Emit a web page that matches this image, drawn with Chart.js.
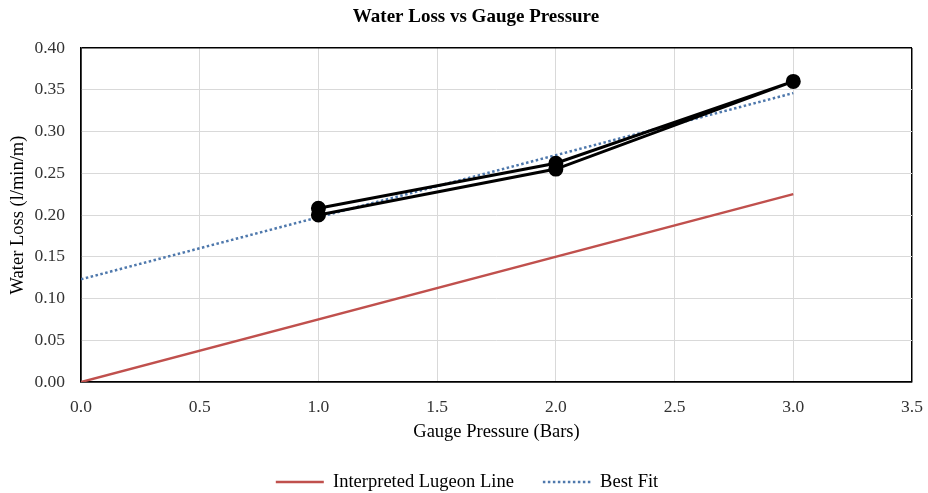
<!DOCTYPE html>
<html>
<head>
<meta charset="utf-8">
<script src="https://cdn.jsdelivr.net/npm/chart.js@4"></script>
<style>
  html, body { margin: 0; padding: 0; background: #ffffff; }
  #wrap { width: 928px; height: 493px; }
</style>
</head>
<body>
<div id="wrap"><canvas id="chart" width="928" height="493"></canvas></div>
<script>
// Packer test readings: pressure stages up and back down
const testPressure = [1.0, 2.0, 3.0, 2.0, 1.0];
const testWaterLoss = [0.208, 0.262, 0.360, 0.255, 0.200];

// Interpreted Lugeon line through the origin
const lugeonPressure = [0.0, 3.0];
const lugeonWaterLoss = [0.0, 0.225];

// Linear best fit of the test readings
const fitPressure = [0.0, 3.0];
const fitWaterLoss = [0.123, 0.346];

const xTickValues = [0.0, 0.5, 1.0, 1.5, 2.0, 2.5, 3.0, 3.5];
const yTickValues = [0.00, 0.05, 0.10, 0.15, 0.20, 0.25, 0.30, 0.35, 0.40];

const chartTitle = 'Water Loss vs Gauge Pressure';
const xTitle = 'Gauge Pressure (Bars)';
const yTitle = 'Water Loss (l/min/m)';

const serif = '"Liberation Serif", "Times New Roman", serif';

const toPoints = (xs, ys) => xs.map((x, i) => ({ x: x, y: ys[i] }));

// Frame edges (first and last tick) are drawn black, inner grid light grey
const edgeAware = (vals, edge, inner) => (ctx) => {
  const v = ctx.tick ? ctx.tick.value : null;
  if (v === null) return inner;
  const lo = vals[0], hi = vals[vals.length - 1];
  return (Math.abs(v - lo) < 1e-9 || Math.abs(v - hi) < 1e-9) ? edge : inner;
};

// Heading above the plot, plus a small nudge of the legend row
const layoutPlugin = {
  id: 'chartHeading',
  afterLayout(chart) {
    const lg = chart.legend;
    if (lg) {
      const h = lg.bottom - lg.top;
      lg.top = 443.75;
      lg.bottom = lg.top + h;
      lg.left += 3;
      lg.right += 3;
    }
  },
  afterDraw(chart) {
    const c = chart.ctx;
    c.save();
    c.font = 'bold 19px ' + serif;
    c.fillStyle = '#000000';
    c.textAlign = 'center';
    c.textBaseline = 'middle';
    c.fillText(chartTitle, 476, 17);
    c.restore();
  }
};

// Legend entries use the dataset line style (colour, width, dash)
const legendLabels = (chart) => {
  const items = Chart.defaults.plugins.legend.labels.generateLabels(chart);
  return items
    .map((it) => {
      const ds = chart.data.datasets[it.datasetIndex];
      it.strokeStyle = ds.borderColor;
      it.lineWidth = ds.borderWidth;
      it.lineDash = ds.borderDash || [];
      it.pointStyle = 'line';
      return it;
    })
    .sort((a, b) => a.datasetIndex - b.datasetIndex);
};

new Chart(document.getElementById('chart'), {
  type: 'scatter',
  data: {
    datasets: [
      {
        label: 'Test Readings',
        data: toPoints(testPressure, testWaterLoss),
        showLine: true,
        borderColor: '#000000',
        backgroundColor: '#000000',
        borderWidth: 3,
        pointRadius: 6,
        pointHoverRadius: 6,
        order: 0
      },
      {
        label: 'Interpreted Lugeon Line',
        data: toPoints(lugeonPressure, lugeonWaterLoss),
        showLine: true,
        borderColor: '#C0504D',
        backgroundColor: '#C0504D',
        borderWidth: 2.5,
        pointRadius: 0,
        order: 2
      },
      {
        label: 'Best Fit',
        data: toPoints(fitPressure, fitWaterLoss),
        showLine: true,
        borderColor: '#4E78AC',
        backgroundColor: '#4E78AC',
        borderWidth: 2.5,
        borderDash: [2.5, 2.5],
        pointRadius: 0,
        order: 1
      }
    ]
  },
  options: {
    responsive: false,
    animation: false,
    layout: { padding: { top: 48, right: 0, left: 0, bottom: 0 } },
    plugins: {
      title: { display: false },
      tooltip: { enabled: false },
      legend: {
        display: true,
        position: 'bottom',
        labels: {
          generateLabels: legendLabels,
          filter: (item) => item.text !== 'Test Readings',
          usePointStyle: true,
          pointStyle: 'line',
          pointStyleWidth: 48,
          padding: 29,
          color: '#000000',
          font: { family: serif, size: 18.5 }
        }
      }
    },
    scales: {
      x: {
        type: 'linear',
        min: 0,
        max: 3.5,
        afterBuildTicks: (s) => { s.ticks = xTickValues.map(v => ({ value: v })); },
        afterFit: (s) => { s.height = 53.5; s.paddingLeft = 0; s.paddingRight = 16; },
        ticks: {
          padding: 15,
          color: '#333333',
          font: { family: serif, size: 17.5 },
          callback: (v) => Number(v).toFixed(1)
        },
        grid: {
          drawTicks: false,
          color: edgeAware(xTickValues, '#000000', '#d9d9d9'),
          lineWidth: edgeAware(xTickValues, 1.5, 1)
        },
        border: { display: true, color: '#000000', width: 1.5 },
        title: {
          display: true,
          text: xTitle,
          color: '#000000',
          font: { family: serif, size: 18.5 },
          padding: { top: 0, bottom: -7.6 }
        }
      },
      y: {
        type: 'linear',
        min: 0,
        max: 0.4,
        afterBuildTicks: (s) => { s.ticks = yTickValues.map(v => ({ value: v })); },
        afterFit: (s) => { s.width = 81; s.paddingTop = 0; s.paddingBottom = 0; },
        ticks: {
          padding: 16,
          color: '#333333',
          font: { family: serif, size: 17.5 },
          callback: (v) => Number(v).toFixed(2)
        },
        grid: {
          drawTicks: false,
          color: edgeAware(yTickValues, '#000000', '#d9d9d9'),
          lineWidth: edgeAware(yTickValues, 1.5, 1)
        },
        border: { display: true, color: '#000000', width: 1.5 },
        title: {
          display: true,
          text: yTitle,
          color: '#000000',
          font: { family: serif, size: 18.5 },
          padding: { top: 7, bottom: 0 }
        }
      }
    }
  },
  plugins: [layoutPlugin]
});
</script>
</body>
</html>
